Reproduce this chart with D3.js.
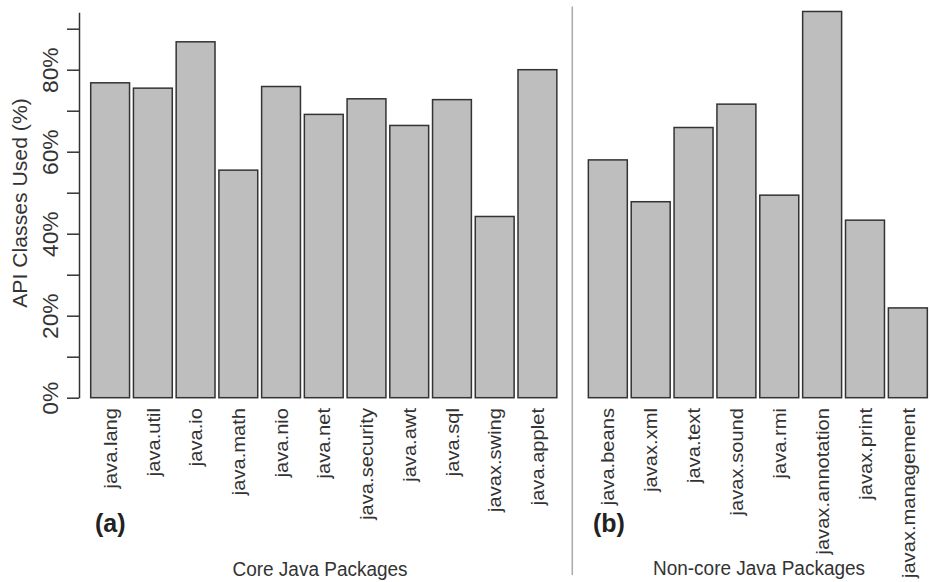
<!DOCTYPE html>
<html>
<head>
<meta charset="utf-8">
<script src="https://cdn.jsdelivr.net/npm/d3@7"></script>
<style>
  html, body { margin: 0; padding: 0; background: #fff; }
  svg { display: block; font-family: "Liberation Sans", Arial, sans-serif; }
</style>
</head>
<body>
<svg id="chart" width="930" height="582"></svg>
<script>
// ---- data ----
const coreCategories = ["java.lang", "java.util", "java.io", "java.math", "java.nio", "java.net",
  "java.security", "java.awt", "java.sql", "javax.swing", "java.applet"];
const coreValues = [76.8, 75.5, 86.8, 55.5, 75.9, 69.1, 72.9, 66.4, 72.7, 44.2, 80.0];

const nonCoreCategories = ["java.beans", "javax.xml", "java.text", "javax.sound", "java.rmi",
  "javax.annotation", "javax.print", "javax.management"];
const nonCoreValues = [58.0, 47.8, 65.9, 71.6, 49.4, 94.2, 43.3, 21.9];

const yTickValues = [0, 10, 20, 30, 40, 50, 60, 70, 80, 90];
const yLabelValues = [0, 20, 40, 60, 80];

const yTitle = "API Classes Used (%)";
const panelTitles = ["(a)", "(b)"];
const groupTitles = ["Core Java Packages", "Non-core Java Packages"];

// ---- layout ----
const svg = d3.select("#chart");
const textColor = "#333";
const stretch = 1.06;

const y = d3.scaleLinear().domain([0, 94]).range([397.7, 12.3]);

const xA = d3.scaleBand().domain(coreCategories)
  .range([88.76, 88.76 + 11 * 42.73]).paddingInner(0.0909).paddingOuter(0.04545);
const xB = d3.scaleBand().domain(nonCoreCategories)
  .range([586.4, 586.4 + 8 * 42.86]).paddingInner(0.0909).paddingOuter(0.04545);

// divider
svg.append("line")
  .attr("x1", 572.3).attr("x2", 572.3).attr("y1", 6.5).attr("y2", 575)
  .attr("stroke", "#aaa").attr("stroke-width", 1.5);

// y axis
const yAxis = d3.axisLeft(y).tickValues(yTickValues).tickSize(12).tickSizeOuter(0)
  .tickFormat(d => yLabelValues.includes(d) ? d + "%" : "");
const gy = svg.append("g").attr("transform", "translate(79,0)").call(yAxis);
gy.select(".domain").attr("stroke", textColor).attr("stroke-width", 1.5);
gy.selectAll(".tick line").attr("stroke", textColor).attr("stroke-width", 1.5);
gy.selectAll(".tick text")
  .attr("x", null).attr("y", null).attr("dy", null)
  .attr("transform", `translate(-20.7,0) scale(1,${stretch}) rotate(-90)`)
  .attr("text-anchor", "middle")
  .attr("fill", textColor)
  .style("font-size", "21.5px")
  .style("font-family", "'Liberation Sans', Arial, sans-serif");

// y title
svg.append("text")
  .attr("transform", `translate(27,203) scale(1,${stretch}) rotate(-90)`)
  .attr("text-anchor", "middle")
  .attr("fill", textColor)
  .style("font-size", "20px")
  .text(yTitle);

function drawPanel(cats, vals, x) {
  const g = svg.append("g");
  g.selectAll("rect").data(cats).join("rect")
    .attr("x", d => x(d))
    .attr("width", x.bandwidth())
    .attr("y", (d, i) => y(vals[i]))
    .attr("height", (d, i) => y(0) - y(vals[i]))
    .attr("fill", "#bebebe")
    .attr("stroke", "#333")
    .attr("stroke-width", 1.5);
  g.selectAll("text.lab").data(cats).join("text")
    .attr("class", "lab")
    .attr("transform", d => `translate(${x(d) + x.bandwidth() / 2},408) scale(1,${stretch}) rotate(-90)`)
    .attr("text-anchor", "end")
    .attr("dy", "0.35em")
    .attr("fill", textColor)
    .style("font-size", "19px")
    .text(d => d);
}
drawPanel(coreCategories, coreValues, xA);
drawPanel(nonCoreCategories, nonCoreValues, xB);

// panel letters
const letterPos = [[95, 532], [593, 532]];
panelTitles.forEach((t, i) => {
  svg.append("text")
    .attr("transform", `translate(${letterPos[i][0]},${letterPos[i][1]}) scale(1,${stretch})`)
    .attr("fill", "#222")
    .style("font-size", "25px")
    .style("font-weight", "bold")
    .text(t);
});

// group titles
const groupPos = [[320, 576], [759, 575]];
groupTitles.forEach((t, i) => {
  svg.append("text")
    .attr("transform", `translate(${groupPos[i][0]},${groupPos[i][1]}) scale(1,${stretch})`)
    .attr("text-anchor", "middle")
    .attr("fill", textColor)
    .style("font-size", "19px")
    .text(t);
});
</script>
</body>
</html>
